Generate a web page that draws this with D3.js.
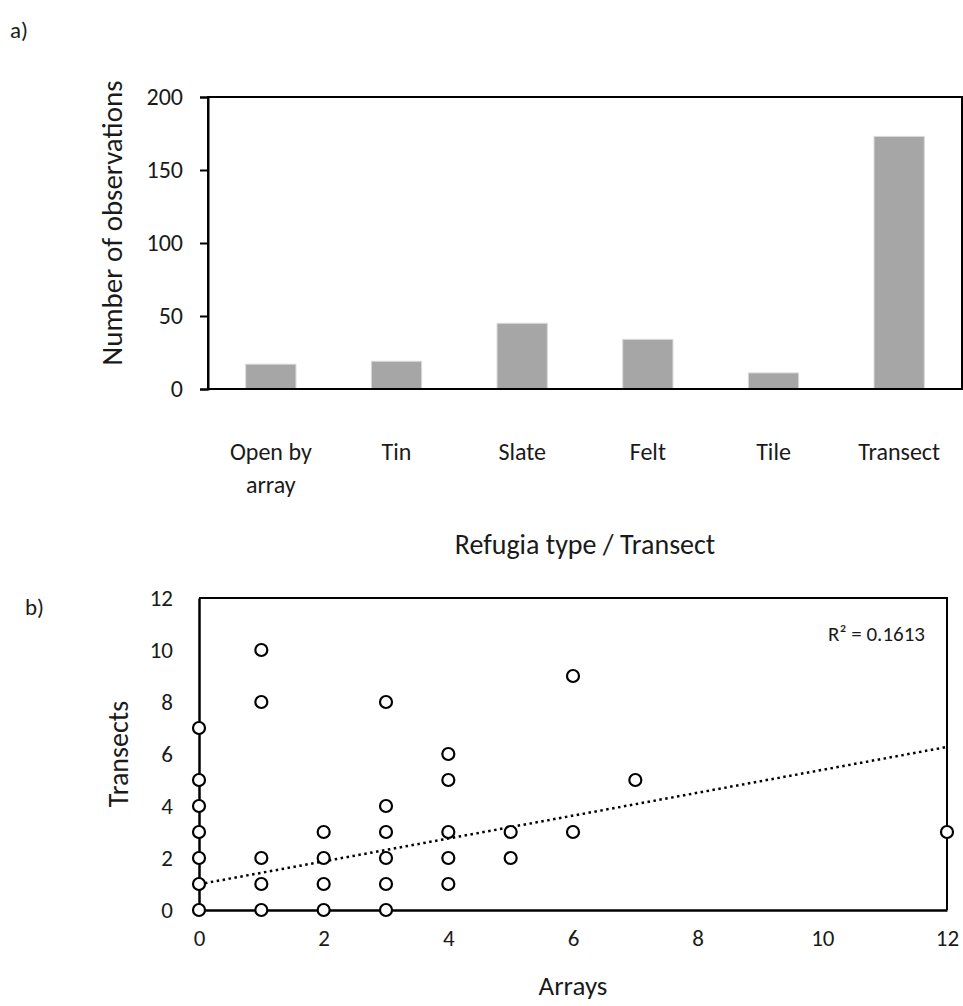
<!DOCTYPE html>
<html>
<head>
<meta charset="utf-8">
<script src="https://cdn.jsdelivr.net/npm/d3@7"></script>
<style>
  html, body { margin: 0; padding: 0; background: #fff; }
  svg { display: block; font-family: Carlito, Calibri, Lato, "Open Sans", sans-serif; }
</style>
</head>
<body>
<svg id="fig" width="963" height="1006"></svg>
<script>
// Panel a) observations per refugia type
const categories = ["Open by array", "Tin", "Slate", "Felt", "Tile", "Transect"];
const categoryLines = [["Open by", "array"], ["Tin"], ["Slate"], ["Felt"], ["Tile"], ["Transect"]];
const observations = [17, 19, 45, 34, 11, 173];
const barTicks = [0, 50, 100, 150, 200];

// Panel b) transects vs arrays per site
const arrays    = [0, 0, 0, 0, 0, 0, 0, 1, 1, 1, 1, 1, 2, 2, 2, 2, 3, 3, 3, 3, 3, 3, 4, 4, 4, 4, 4, 5, 5, 6, 6, 7, 12];
const transects = [0, 1, 2, 3, 4, 5, 7, 0, 1, 2, 8, 10, 0, 1, 2, 3, 0, 1, 2, 3, 4, 8, 1, 2, 3, 5, 6, 2, 3, 3, 9, 5, 3];
const scatterTicks = [0, 2, 4, 6, 8, 10, 12];
// Linear trend (intercept, slope) and its coefficient of determination
const trendIntercept = 0.99;
const trendSlope = 0.44;
const rSquared = 0.1613;

const svg = d3.select("#fig");
const ink = "#1a1a1a";

// ---------- a) bar chart ----------
const a = { left: 208, right: 962, top: 97, bottom: 389 };
const xBar = d3.scaleBand().domain(categories).range([a.left, a.right])
  .paddingInner(0.6).paddingOuter(0.3);
const yBar = d3.scaleLinear().domain([0, 200]).range([a.bottom, a.top]);

svg.append("text").attr("x", 10).attr("y", 38).attr("font-size", 23).attr("fill", ink).text("a)");

const gA = svg.append("g");
gA.selectAll("rect.bar").data(observations).join("rect")
  .attr("class", "bar")
  .attr("x", (d, i) => xBar(categories[i]))
  .attr("y", d => yBar(d))
  .attr("width", xBar.bandwidth())
  .attr("height", d => yBar(0) - yBar(d))
  .attr("fill", "#a6a6a6")
  .attr("stroke", "#d9d9d9")
  .attr("stroke-width", 1);

// frame
gA.append("rect").attr("x", a.left).attr("y", a.top)
  .attr("width", a.right - a.left).attr("height", a.bottom - a.top)
  .attr("fill", "none").attr("stroke", "#000").attr("stroke-width", 2);

const yAxisA = d3.axisLeft(yBar).tickValues(barTicks).tickSize(8).tickPadding(17);
gA.append("g").attr("transform", `translate(${a.left},0)`).call(yAxisA)
  .attr("font-family", null).attr("font-size", null)
  .call(g => g.select(".domain").attr("stroke-width", 2))
  .call(g => g.selectAll(".tick line").attr("stroke-width", 2))
  .call(g => g.selectAll(".tick text").attr("font-size", 24).attr("fill", ink));

// category labels (multi-line)
const catG = gA.selectAll("g.cat").data(categories).join("g")
  .attr("class", "cat")
  .attr("transform", d => `translate(${xBar(d) + xBar.bandwidth() / 2},460)`);
catG.append("text").attr("text-anchor", "middle").attr("font-size", 24).attr("fill", ink)
  .selectAll("tspan").data((d, i) => categoryLines[i]).join("tspan")
  .attr("x", 0).attr("dy", (d, i) => i === 0 ? 0 : 33).text(d => d);

gA.append("text").attr("x", (a.left + a.right) / 2).attr("y", 554)
  .attr("text-anchor", "middle").attr("font-size", 28).attr("fill", ink)
  .text("Refugia type / Transect");
gA.append("text").attr("transform", `translate(122,${(a.top + a.bottom) / 2 - 20}) rotate(-90)`)
  .attr("text-anchor", "middle").attr("font-size", 29).attr("fill", ink)
  .text("Number of observations");

// ---------- b) scatter ----------
const b = { left: 199, right: 947, top: 598, bottom: 910 };
const xSc = d3.scaleLinear().domain([0, 12]).range([b.left, b.right]);
const ySc = d3.scaleLinear().domain([0, 12]).range([b.bottom, b.top]);

svg.append("text").attr("x", 25).attr("y", 615).attr("font-size", 23).attr("fill", ink).text("b)");

const gB = svg.append("g");
// frame: top/right edges, axes drawn separately
gB.append("path")
  .attr("d", `M${b.left},${b.top}H${b.right}V${b.bottom}`)
  .attr("fill", "none").attr("stroke", "#000").attr("stroke-width", 2);

const xAxisB = d3.axisBottom(xSc).tickValues(scatterTicks).tickSize(0).tickPadding(20);
gB.append("g").attr("transform", `translate(0,${b.bottom})`).call(xAxisB)
  .attr("font-family", null).attr("font-size", null)
  .call(g => g.select(".domain").attr("stroke-width", 2.5))
  .call(g => g.selectAll(".tick text").attr("font-size", 23).attr("fill", ink));
const yAxisB = d3.axisLeft(ySc).tickValues(scatterTicks).tickSize(0).tickPadding(26);
gB.append("g").attr("transform", `translate(${b.left},0)`).call(yAxisB)
  .attr("font-family", null).attr("font-size", null)
  .call(g => g.select(".domain").attr("stroke-width", 2.5))
  .call(g => g.selectAll(".tick text").attr("font-size", 23).attr("fill", ink));

// trend line
const trendY = x => trendIntercept + trendSlope * x;
gB.append("line")
  .attr("x1", xSc(0)).attr("y1", ySc(trendY(0)))
  .attr("x2", xSc(12)).attr("y2", ySc(trendY(12)))
  .attr("stroke", "#000").attr("stroke-width", 2.5)
  .attr("stroke-dasharray", "2.5 3.5");

// points
gB.selectAll("circle").data(arrays).join("circle")
  .attr("cx", d => xSc(d))
  .attr("cy", (d, i) => ySc(transects[i]))
  .attr("r", 6)
  .attr("fill", "#fff").attr("stroke", "#000").attr("stroke-width", 2.2);

gB.append("text").attr("x", 925).attr("y", 641).attr("text-anchor", "end")
  .attr("font-size", 21).attr("fill", ink)
  .text(`R\u00B2 = ${rSquared}`);

gB.append("text").attr("x", (b.left + b.right) / 2).attr("y", 995)
  .attr("text-anchor", "middle").attr("font-size", 27).attr("fill", ink).text("Arrays");
gB.append("text").attr("transform", `translate(128,${(b.top + b.bottom) / 2}) rotate(-90)`)
  .attr("text-anchor", "middle").attr("font-size", 28).attr("fill", ink).text("Transects");
</script>
</body>
</html>
